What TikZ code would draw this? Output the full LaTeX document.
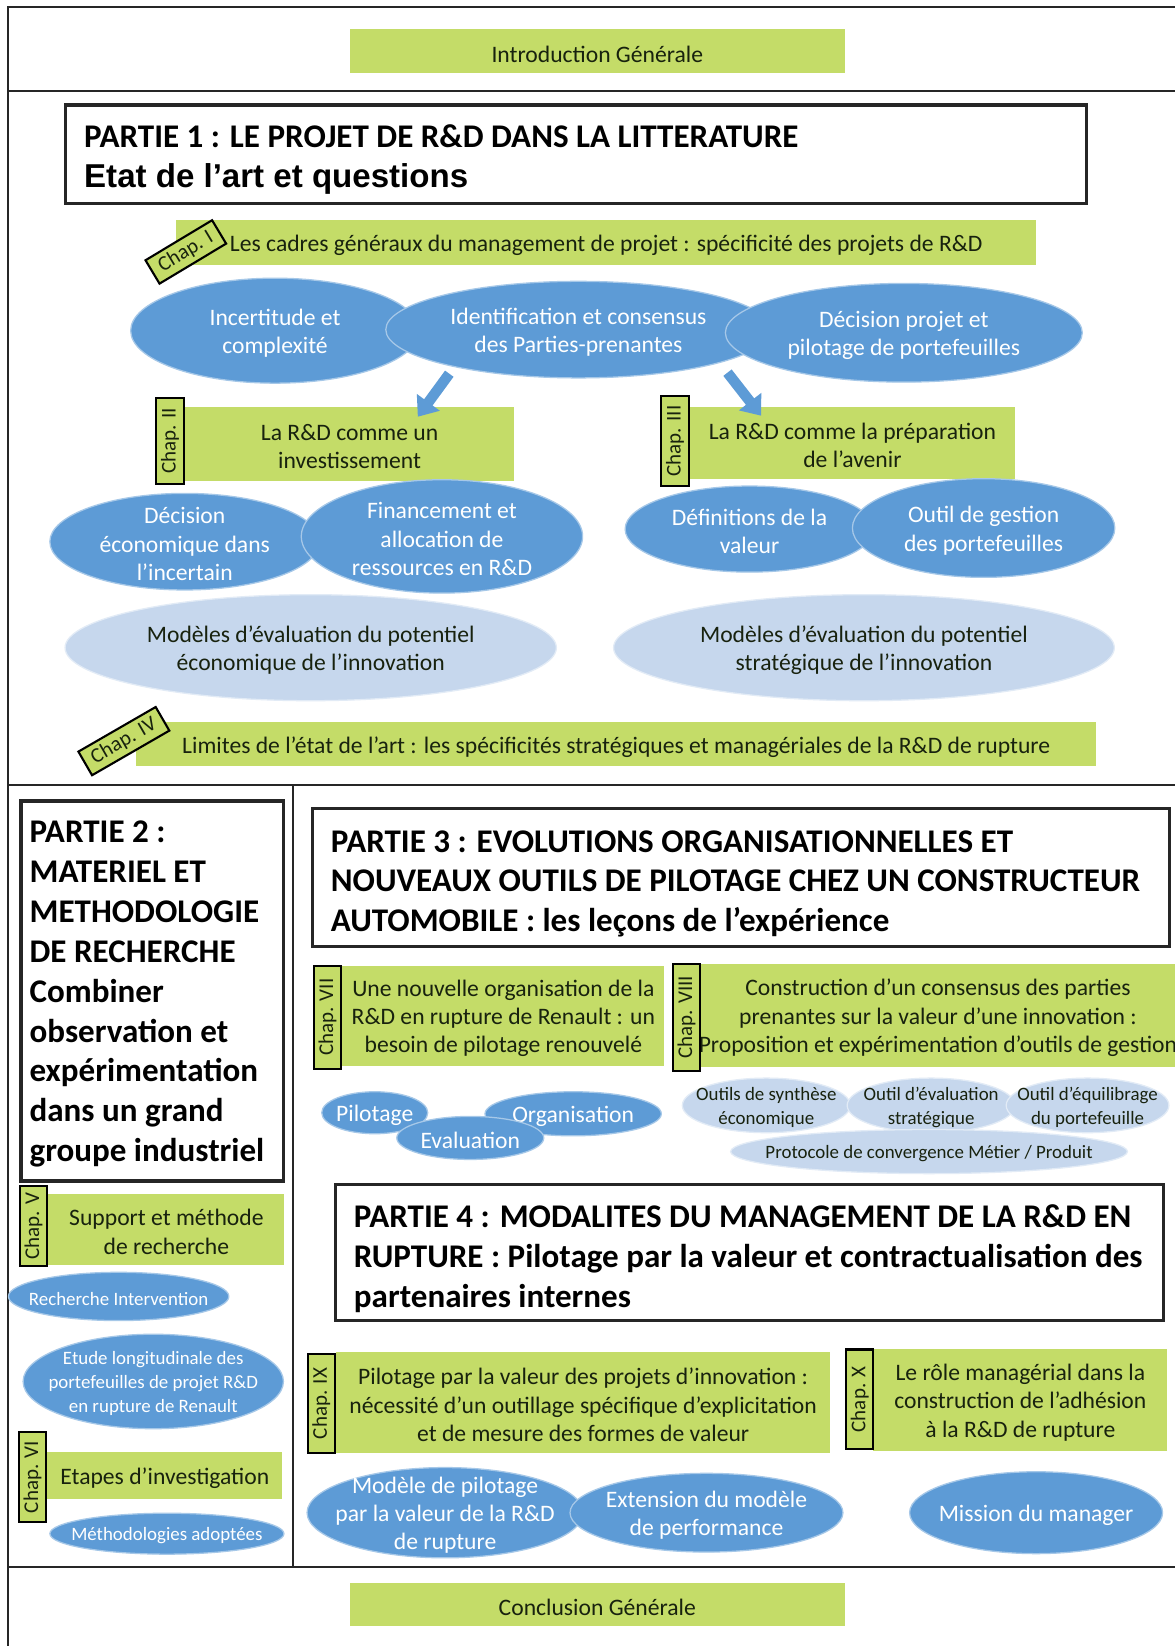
\documentclass[tikz,border=0pt]{standalone}
\usepackage{fontspec}
\setmainfont{Carlito}
\newfontfamily\arialFont{Liberation Sans}
\usepackage{tikz}
\usetikzlibrary{positioning,shapes.geometric,arrows.meta}
\definecolor{bandGreen}{RGB}{196,220,104}
\definecolor{ovalBlue}{RGB}{93,155,214}
\definecolor{ovalLight}{RGB}{198,215,237}
\definecolor{inkColor}{RGB}{24,34,14}
\newcommand{\bandFont}{\fontsize{22.5}{27}\selectfont}
\newcommand{\smallFont}{\fontsize{18}{23}\selectfont}
\newcommand{\tagFont}{\fontsize{20}{22}\selectfont}
\newcommand{\partFont}{\fontsize{31.5}{38}\selectfont\bfseries}
\tikzstyle{frameLine} = [color=black!85, line width=2pt]
\tikzstyle{band} = [fill=bandGreen]
\tikzstyle{bandText} = [align=center, text=inkColor, font=\bandFont, inner sep=0pt, yshift=-2.5pt]
\tikzstyle{chapTagStyle} = [rectangle, fill=bandGreen, draw=black, line width=2pt, inner sep=0pt, text=inkColor, font=\tagFont]
\tikzstyle{oval} = [ellipse, fill=ovalBlue, draw=ovalBlue!55!white, line width=1.2pt, inner sep=0pt]
\tikzstyle{lightOval} = [ellipse, fill=ovalLight, draw=ovalLight!50!white, line width=1.2pt, inner sep=0pt]
\tikzstyle{ovalText} = [align=center, text=white, font=\bandFont, inner sep=0pt, yshift=-2.5pt]
\tikzstyle{ovalTextSmall} = [align=center, text=white, font=\smallFont, inner sep=0pt, yshift=-2pt]
\tikzstyle{lightText} = [align=center, text=inkColor, font=\bandFont, inner sep=0pt, yshift=-2.5pt]
\tikzstyle{lightTextSmall} = [align=center, text=inkColor, font=\smallFont, inner sep=0pt, yshift=-2pt]
\tikzstyle{partBox} = [draw=black!85, line width=3pt, fill=white]
\tikzstyle{partText} = [align=left, font=\partFont, inner sep=0pt, anchor=west]
\tikzstyle{bigArrow} = [draw=ovalBlue, line width=10pt, -{Triangle[width=26pt,length=17pt]}]
\newcommand{\chapBand}[6]{
  \fill[band] (#2, #3) rectangle (#4, #5);
  \node[bandText] (#1) at ({(#2 + #4)/2}, {(#3 + #5)/2}) {#6};
}
\newcommand{\chapTag}[6]{
  \node[chapTagStyle, minimum width=#4, minimum height=26, rotate=#5] (#1) at (#2, #3) {#6};
}
\newcommand{\ovalShape}[8]{
  \node[#1, minimum width=#6, minimum height=#7] (#3) at (#4, #5) {};
  \node[#2] (#3Text) at (#3.center) {#8};
}

\begin{document}
\begin{tikzpicture}[x=1pt, y=-1pt]
  \useasboundingbox (0,0) rectangle (1119,1568);
  \fill[white] (0,0) rectangle (1119,1568);

  \draw[frameLine] (1119,7) -- (8,7) -- (8,1568);
  \draw[frameLine] (8,87) -- (1119,87);
  \draw[frameLine] (8,748) -- (1119,748);
  \draw[frameLine] (8,1493) -- (1119,1493);
  \draw[frameLine] (279,748) -- (279,1493);

  \chapBand{intro}{333}{28}{805}{70}{Introduction Générale}
  \chapBand{conclusion}{333}{1508}{805}{1549}{Conclusion Générale}

  % partie 1
  \draw[partBox] (62,100) rectangle (1035,194);
  \node[partText] (partOne) at (80,152) {PARTIE 1 : LE PROJET DE R\&D DANS LA LITTERATURE\\{\arialFont Etat de l’art et questions}};

  \chapBand{chapOne}{168}{210}{987}{252}{Les cadres généraux du management de projet : spécificité des projets de R\&D}
  \chapTag{tagOne}{177}{240}{74}{31}{Chap. I}

  \ovalShape{oval}{ovalText}{incert}{262}{315}{275}{100}{Incertitude et\\complexité}
  \ovalShape{oval}{ovalText}{ident}{551}{314}{367}{92}{Identification et consensus\\des Parties-prenantes}
  \ovalShape{oval}{ovalText}{decProjet}{861}{317}{340}{94}{Décision projet et\\pilotage de portefeuilles}

  \chapBand{chapTwo}{176}{388}{490}{458}{La R\&D comme un\\investissement}
  \chapTag{tagTwo}{162}{420}{82}{90}{Chap. II}
  \chapBand{chapThree}{657}{388}{967}{456}{La R\&D comme la préparation\\de l’avenir}
  \chapTag{tagThree}{643}{420}{86}{90}{Chap. III}

  \coordinate (leftArrowStart) at (428,356);
  \coordinate (leftArrowTip) at (398,397);
  \coordinate (rightArrowStart) at (693,355);
  \coordinate (rightArrowTip) at (725,396);
  \draw[bigArrow] (leftArrowStart) -- (leftArrowTip);
  \draw[bigArrow] (rightArrowStart) -- (rightArrowTip);

  \ovalShape{oval}{ovalText}{decEco}{176}{516}{257}{92}{Décision\\économique dans\\l’incertain}
  \ovalShape{oval}{ovalText}{financement}{421}{511}{268}{108}{Financement et\\allocation de\\ressources en R\&D}
  \ovalShape{oval}{ovalText}{defValeur}{714}{504}{237}{82}{Définitions de la\\valeur}
  \ovalShape{oval}{ovalText}{outilGestion}{937}{503}{250}{94}{Outil de gestion\\des portefeuilles}

  \ovalShape{lightOval}{lightText}{modEco}{296}{617}{468}{101}{Modèles d’évaluation du potentiel\\économique de l’innovation}
  \ovalShape{lightOval}{lightText}{modStrat}{823}{617}{477}{101}{Modèles d’évaluation du potentiel\\stratégique de l’innovation}

  \chapBand{chapFour}{130}{688}{1044}{730}{Limites de l’état de l’art : les spécificités stratégiques et managériales de la R\&D de rupture}
  \chapTag{tagFour}{118}{706}{85}{30}{Chap. IV}

  % partie 2
  \draw[partBox] (20,763) rectangle (270,1125);
  \node[partText] (partTwo) at (28,947) {PARTIE 2 :\\MATERIEL ET\\METHODOLOGIE\\DE RECHERCHE\\Combiner\\observation et\\expérimentation\\dans un grand\\groupe industriel};

  \chapBand{chapFive}{46}{1137}{271}{1205}{Support et méthode\\de recherche}
  \chapTag{tagFive}{32}{1168}{76}{90}{Chap. V}
  \ovalShape{oval}{ovalTextSmall}{rechInter}{113}{1235}{210}{46}{Recherche Intervention}
  \ovalShape{oval}{ovalTextSmall}{etude}{146}{1316}{248}{90}{Etude longitudinale des\\portefeuilles de projet R\&D\\en rupture de Renault}

  \chapBand{chapSix}{45}{1383}{269}{1428}{Etapes d’investigation}
  \chapTag{tagSix}{31}{1407}{85}{90}{Chap. VI}
  \ovalShape{oval}{ovalTextSmall}{methodo}{159}{1461}{223}{39}{Méthodologies adoptées}

  % partie 3
  \draw[partBox] (298,770) rectangle (1114,902);
  \node[partText] (partThree) at (315,842) {PARTIE 3 : EVOLUTIONS ORGANISATIONNELLES ET\\NOUVEAUX OUTILS DE PILOTAGE CHEZ UN CONSTRUCTEUR\\AUTOMOBILE : les leçons de l’expérience};

  \chapBand{chapSeven}{326}{920}{633}{1015}{Une nouvelle organisation de la\\R\&D en rupture de Renault : un\\besoin de pilotage renouvelé}
  \chapTag{tagSeven}{312}{969}{98}{90}{Chap. VII}
  \chapBand{chapEight}{668}{918}{1119}{1016}{Construction d’un consensus des parties\\prenantes sur la valeur d’une innovation :\\Proposition et expérimentation d’outils de gestion}
  \chapTag{tagEight}{654}{969}{102}{90}{Chap. VIII}

  \ovalShape{oval}{ovalText}{pilotage}{357}{1060}{101}{40}{Pilotage}
  \ovalShape{oval}{ovalText}{organisation}{546}{1061}{168}{42}{Organisation}
  \ovalShape{oval}{ovalText}{evaluation}{448}{1084}{140}{41}{Evaluation}

  \ovalShape{lightOval}{lightTextSmall}{synthese}{730}{1053}{160}{52}{Outils de synthèse\\économique}
  \ovalShape{lightOval}{lightTextSmall}{evalStrat}{887}{1053}{160}{52}{Outil d’évaluation\\stratégique}
  \ovalShape{lightOval}{lightTextSmall}{equilibrage}{1036}{1053}{155}{52}{Outil d’équilibrage\\du portefeuille}
  \ovalShape{lightOval}{lightTextSmall}{protocole}{885}{1097}{378}{42}{Protocole de convergence Métier / Produit}

  % partie 4
  \draw[partBox] (320,1128) rectangle (1108,1258);
  \node[partText] (partFour) at (337,1199) {PARTIE 4 : MODALITES DU MANAGEMENT DE LA R\&D EN\\RUPTURE : Pilotage par la valeur et contractualisation des\\partenaires internes};

  \chapBand{chapNine}{320}{1288}{791}{1384}{Pilotage par la valeur des projets d’innovation :\\nécessité d’un outillage spécifique d’explicitation\\et de mesure des formes de valeur}
  \chapTag{tagNine}{306}{1337}{95}{90}{Chap. IX}
  \chapBand{chapTen}{832}{1285}{1112}{1382}{Le rôle managérial dans la\\construction de l’adhésion\\à la R\&D de rupture}
  \chapTag{tagTen}{819}{1333}{95}{90}{Chap. X}

  \ovalShape{oval}{ovalText}{modPilotage}{424}{1441}{263}{86}{Modèle de pilotage\\par la valeur de la R\&D\\de rupture}
  \ovalShape{oval}{ovalText}{extension}{673}{1441}{260}{75}{Extension du modèle\\de performance}
  \ovalShape{oval}{ovalText}{mission}{987}{1441}{241}{78}{Mission du manager}
\end{tikzpicture}
\end{document}
